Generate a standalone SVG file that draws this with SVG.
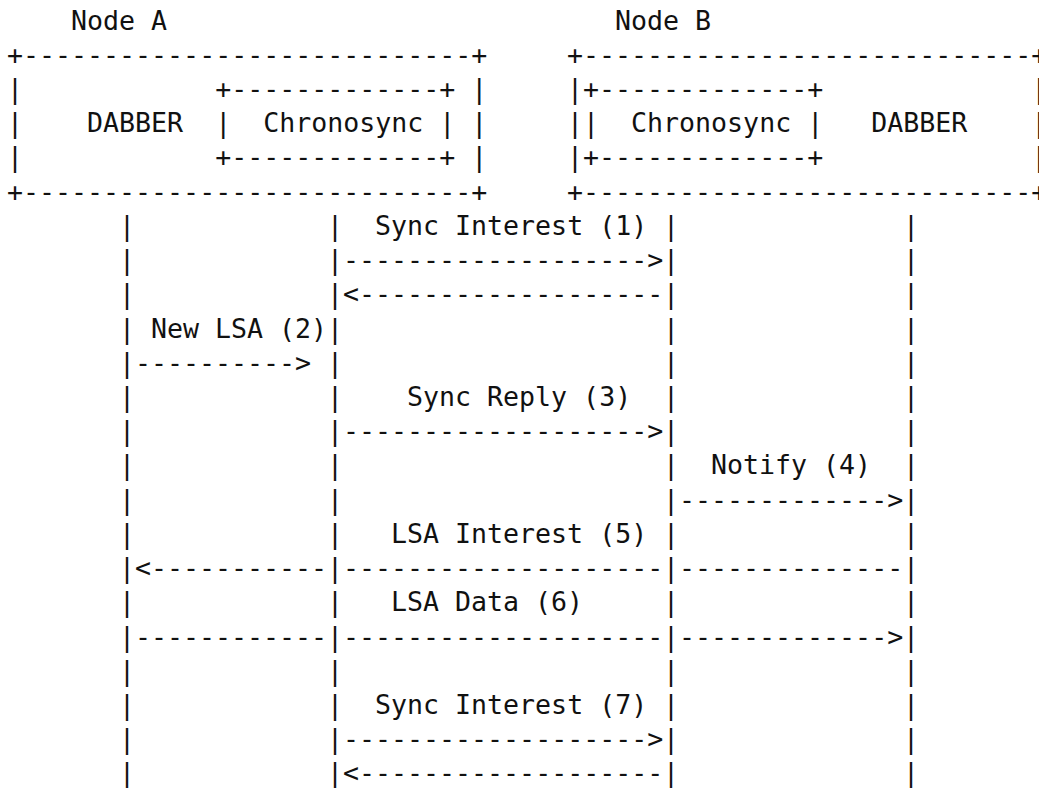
<svg xmlns="http://www.w3.org/2000/svg" width="1039" height="788" viewBox="0 0 1039 788">
<style>
text { font-family: "DejaVu Sans Mono", "Liberation Mono", monospace; font-size: 26.6px; fill: #111; white-space: pre; }
</style>
<rect width="1039" height="788" fill="#fff"/>
<g id="node-a">
<text x="71" y="29.5">Node A</text>
<text x="7" y="63.7" xml:space="preserve">+----------------------------+</text>
<text x="7" y="97.9" xml:space="preserve">|            +-------------+ |</text>
<text x="7" y="132.2" xml:space="preserve">|    DABBER  |  Chronosync | |</text>
<text x="7" y="166.4" xml:space="preserve">|            +-------------+ |</text>
<text x="7" y="200.6" xml:space="preserve">+----------------------------+</text>
</g>
<g id="node-b">
<text x="615" y="29.5">Node B</text>
<text x="567" y="63.7" xml:space="preserve">+----------------------------+</text>
<text x="567" y="97.9" xml:space="preserve">|+-------------+             |</text>
<text x="567" y="132.2" xml:space="preserve">||  Chronosync |   DABBER    |</text>
<text x="567" y="166.4" xml:space="preserve">|+-------------+             |</text>
<text x="567" y="200.6" xml:space="preserve">+----------------------------+</text>
</g>
<g id="connectors">
<g id="lifelines">
<text x="119 119 119 119 119 119 119 119 119 119 119 119 119 119 119 119 119" y="234.8 269 303.3 337.5 371.7 405.9 440.1 474.4 508.6 542.8 577 611.2 645.5 679.7 713.9 748.1 782.3">|||||||||||||||||</text>
<text x="327 327 327 327 327 327 327 327 327 327 327 327 327 327 327 327 327" y="234.8 269 303.3 337.5 371.7 405.9 440.1 474.4 508.6 542.8 577 611.2 645.5 679.7 713.9 748.1 782.3">|||||||||||||||||</text>
<text x="663 663 663 663 663 663 663 663 663 663 663 663 663 663 663 663 663" y="234.8 269 303.3 337.5 371.7 405.9 440.1 474.4 508.6 542.8 577 611.2 645.5 679.7 713.9 748.1 782.3">|||||||||||||||||</text>
<text x="903 903 903 903 903 903 903 903 903 903 903 903 903 903 903 903 903" y="234.8 269 303.3 337.5 371.7 405.9 440.1 474.4 508.6 542.8 577 611.2 645.5 679.7 713.9 748.1 782.3">|||||||||||||||||</text>
</g>
<g id="msg1">
<text x="375" y="234.8">Sync Interest (1)</text>
<text x="343" y="269">-------------------&gt;</text>
<text x="343" y="303.3">&lt;-------------------</text>
</g>
<g id="msg2">
<text x="151" y="337.5">New LSA (2)</text>
<text x="135" y="371.7">----------&gt;</text>
</g>
<g id="msg3">
<text x="407" y="405.9">Sync Reply (3)</text>
<text x="343" y="440.1">-------------------&gt;</text>
</g>
<g id="msg4">
<text x="711" y="474.4">Notify (4)</text>
<text x="679" y="508.6">-------------&gt;</text>
</g>
<g id="msg5">
<text x="391" y="542.8">LSA Interest (5)</text>
<text x="135" y="577">&lt;-----------</text>
<text x="343" y="577">--------------------</text>
<text x="679" y="577">--------------</text>
</g>
<g id="msg6">
<text x="391" y="611.2">LSA Data (6)</text>
<text x="135" y="645.5">------------</text>
<text x="343" y="645.5">--------------------</text>
<text x="679" y="645.5">-------------&gt;</text>
</g>
<g id="msg7">
<text x="375" y="713.9">Sync Interest (7)</text>
<text x="343" y="748.1">-------------------&gt;</text>
<text x="343" y="782.3">&lt;-------------------</text>
</g>
</g>
</svg>
